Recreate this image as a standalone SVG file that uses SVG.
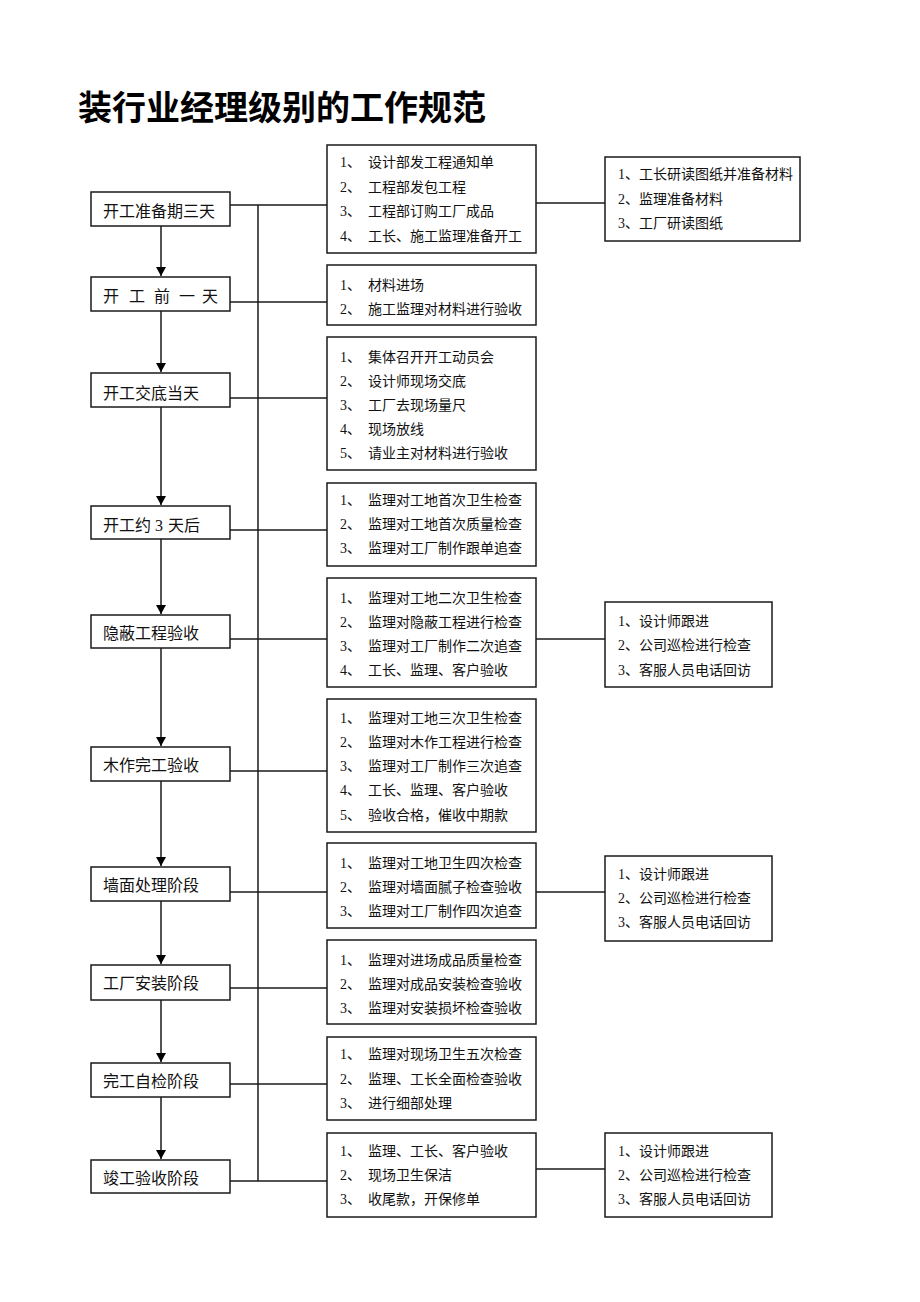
<svg xmlns="http://www.w3.org/2000/svg" width="920" height="1302" viewBox="0 0 920 1302">
<defs>
<style>
.bg{fill:#fff}
.box{fill:#fff;stroke:#1a1a1a;stroke-width:1.5}
.ln{fill:none;stroke:#1a1a1a;stroke-width:1.5}
.t16{font-family:"Liberation Serif","Noto Sans CJK SC",serif;font-size:16px;fill:#111}
.t14{font-family:"Liberation Serif","Noto Sans CJK SC",serif;font-size:14px;fill:#111}
.title{font-family:"Liberation Sans","Noto Sans CJK SC",sans-serif;font-size:34px;font-weight:bold;fill:#000}
</style>
<marker id="ah" markerUnits="userSpaceOnUse" markerWidth="9" markerHeight="10" refX="9" refY="5" orient="auto">
<path d="M0,0 L9,5 L0,10 z" fill="#000"/>
</marker>
</defs>
<rect class="bg" x="0" y="0" width="920" height="1302"/>
<text class="title" x="78" y="120">装行业经理级别的工作规范</text>

<g id="connectors">
<line class="ln" x1="258" y1="205" x2="258" y2="1181"/>
<line class="ln" x1="161" y1="226" x2="161" y2="276" marker-end="url(#ah)"/>
<line class="ln" x1="161" y1="311" x2="161" y2="372" marker-end="url(#ah)"/>
<line class="ln" x1="161" y1="407" x2="161" y2="505" marker-end="url(#ah)"/>
<line class="ln" x1="161" y1="539" x2="161" y2="614" marker-end="url(#ah)"/>
<line class="ln" x1="161" y1="648" x2="161" y2="746" marker-end="url(#ah)"/>
<line class="ln" x1="161" y1="781" x2="161" y2="866" marker-end="url(#ah)"/>
<line class="ln" x1="161" y1="901" x2="161" y2="964" marker-end="url(#ah)"/>
<line class="ln" x1="161" y1="1000" x2="161" y2="1062" marker-end="url(#ah)"/>
<line class="ln" x1="161" y1="1097" x2="161" y2="1159" marker-end="url(#ah)"/>
<line class="ln" x1="230" y1="205" x2="327" y2="205"/>
<line class="ln" x1="230" y1="302" x2="327" y2="302"/>
<line class="ln" x1="230" y1="398" x2="327" y2="398"/>
<line class="ln" x1="230" y1="530" x2="327" y2="530"/>
<line class="ln" x1="230" y1="639" x2="327" y2="639"/>
<line class="ln" x1="230" y1="771" x2="327" y2="771"/>
<line class="ln" x1="230" y1="892" x2="327" y2="892"/>
<line class="ln" x1="230" y1="988" x2="327" y2="988"/>
<line class="ln" x1="230" y1="1084" x2="327" y2="1084"/>
<line class="ln" x1="230" y1="1181" x2="327" y2="1181"/>
<line class="ln" x1="536" y1="203" x2="605" y2="203"/>
<line class="ln" x1="536" y1="639" x2="605" y2="639"/>
<line class="ln" x1="536" y1="892" x2="605" y2="892"/>
<line class="ln" x1="536" y1="1169" x2="605" y2="1169"/>
</g>

<g id="n1"><rect class="box" x="91" y="192" width="139" height="34"/><text class="t16" x="103" y="217">开工准备期三天</text></g>
<g id="n2"><rect class="box" x="91" y="277" width="139" height="34"/><text class="t16" y="302"><tspan x="103">开</tspan><tspan x="129">工</tspan><tspan x="154">前</tspan><tspan x="179">一</tspan><tspan x="202">天</tspan></text></g>
<g id="n3"><rect class="box" x="91" y="373" width="139" height="34"/><text class="t16" x="103" y="399">开工交底当天</text></g>
<g id="n4"><rect class="box" x="91" y="506" width="139" height="33"/><text class="t16" y="531"><tspan x="103">开工约</tspan><tspan x="155">3</tspan><tspan x="168">天后</tspan></text></g>
<g id="n5"><rect class="box" x="91" y="615" width="139" height="33"/><text class="t16" x="103" y="639">隐蔽工程验收</text></g>
<g id="n6"><rect class="box" x="91" y="747" width="139" height="34"/><text class="t16" x="103" y="771">木作完工验收</text></g>
<g id="n7"><rect class="box" x="91" y="867" width="139" height="34"/><text class="t16" x="103" y="891">墙面处理阶段</text></g>
<g id="n8"><rect class="box" x="91" y="965" width="139" height="35"/><text class="t16" x="103" y="989">工厂安装阶段</text></g>
<g id="n9"><rect class="box" x="91" y="1063" width="139" height="34"/><text class="t16" x="103" y="1087">完工自检阶段</text></g>
<g id="n10"><rect class="box" x="91" y="1160" width="139" height="33"/><text class="t16" x="103" y="1184">竣工验收阶段</text></g>

<g id="r1"><rect class="box" x="327" y="145" width="209" height="108"/>
<text class="t14"><tspan x="340" y="167">1、</tspan><tspan x="368" y="167">设计部发工程通知单</tspan><tspan x="340" y="192">2、</tspan><tspan x="368" y="192">工程部发包工程</tspan><tspan x="340" y="216">3、</tspan><tspan x="368" y="216">工程部订购工厂成品</tspan><tspan x="340" y="241">4、</tspan><tspan x="368" y="241">工长、施工监理准备开工</tspan></text></g>
<g id="r2"><rect class="box" x="327" y="265" width="209" height="60"/>
<text class="t14"><tspan x="340" y="290">1、</tspan><tspan x="368" y="290">材料进场</tspan><tspan x="340" y="314">2、</tspan><tspan x="368" y="314">施工监理对材料进行验收</tspan></text></g>
<g id="r3"><rect class="box" x="327" y="337" width="209" height="133"/>
<text class="t14"><tspan x="340" y="362">1、</tspan><tspan x="368" y="362">集体召开开工动员会</tspan><tspan x="340" y="386">2、</tspan><tspan x="368" y="386">设计师现场交底</tspan><tspan x="340" y="410">3、</tspan><tspan x="368" y="410">工厂去现场量尺</tspan><tspan x="340" y="434">4、</tspan><tspan x="368" y="434">现场放线</tspan><tspan x="340" y="458">5、</tspan><tspan x="368" y="458">请业主对材料进行验收</tspan></text></g>
<g id="r4"><rect class="box" x="327" y="483" width="209" height="83"/>
<text class="t14"><tspan x="340" y="505">1、</tspan><tspan x="368" y="505">监理对工地首次卫生检查</tspan><tspan x="340" y="529">2、</tspan><tspan x="368" y="529">监理对工地首次质量检查</tspan><tspan x="340" y="553">3、</tspan><tspan x="368" y="553">监理对工厂制作跟单追查</tspan></text></g>
<g id="r5"><rect class="box" x="327" y="578" width="209" height="109"/>
<text class="t14"><tspan x="340" y="603">1、</tspan><tspan x="368" y="603">监理对工地二次卫生检查</tspan><tspan x="340" y="627">2、</tspan><tspan x="368" y="627">监理对隐蔽工程进行检查</tspan><tspan x="340" y="651">3、</tspan><tspan x="368" y="651">监理对工厂制作二次追查</tspan><tspan x="340" y="675">4、</tspan><tspan x="368" y="675">工长、监理、客户验收</tspan></text></g>
<g id="r6"><rect class="box" x="327" y="699" width="209" height="133"/>
<text class="t14"><tspan x="340" y="723">1、</tspan><tspan x="368" y="723">监理对工地三次卫生检查</tspan><tspan x="340" y="747">2、</tspan><tspan x="368" y="747">监理对木作工程进行检查</tspan><tspan x="340" y="771">3、</tspan><tspan x="368" y="771">监理对工厂制作三次追查</tspan><tspan x="340" y="795">4、</tspan><tspan x="368" y="795">工长、监理、客户验收</tspan><tspan x="340" y="820">5、</tspan><tspan x="368" y="820">验收合格，催收中期款</tspan></text></g>
<g id="r7"><rect class="box" x="327" y="843" width="209" height="85"/>
<text class="t14"><tspan x="340" y="868">1、</tspan><tspan x="368" y="868">监理对工地卫生四次检查</tspan><tspan x="340" y="892">2、</tspan><tspan x="368" y="892">监理对墙面腻子检查验收</tspan><tspan x="340" y="916">3、</tspan><tspan x="368" y="916">监理对工厂制作四次追查</tspan></text></g>
<g id="r8"><rect class="box" x="327" y="940" width="209" height="84"/>
<text class="t14"><tspan x="340" y="965">1、</tspan><tspan x="368" y="965">监理对进场成品质量检查</tspan><tspan x="340" y="989">2、</tspan><tspan x="368" y="989">监理对成品安装检查验收</tspan><tspan x="340" y="1013">3、</tspan><tspan x="368" y="1013">监理对安装损坏检查验收</tspan></text></g>
<g id="r9"><rect class="box" x="327" y="1037" width="209" height="83"/>
<text class="t14"><tspan x="340" y="1059">1、</tspan><tspan x="368" y="1059">监理对现场卫生五次检查</tspan><tspan x="340" y="1084">2、</tspan><tspan x="368" y="1084">监理、工长全面检查验收</tspan><tspan x="340" y="1108">3、</tspan><tspan x="368" y="1108">进行细部处理</tspan></text></g>
<g id="r10"><rect class="box" x="327" y="1133" width="209" height="84"/>
<text class="t14"><tspan x="340" y="1156">1、</tspan><tspan x="368" y="1156">监理、工长、客户验收</tspan><tspan x="340" y="1180">2、</tspan><tspan x="368" y="1180">现场卫生保洁</tspan><tspan x="340" y="1204">3、</tspan><tspan x="368" y="1204">收尾款，开保修单</tspan></text></g>

<g id="f1"><rect class="box" x="605" y="157" width="195" height="84"/>
<text class="t14"><tspan x="618" y="179">1、工长研读图纸并准备材料</tspan><tspan x="618" y="204">2、监理准备材料</tspan><tspan x="618" y="228">3、工厂研读图纸</tspan></text></g>
<g id="f5"><rect class="box" x="605" y="602" width="167" height="85"/>
<text class="t14"><tspan x="618" y="626">1、设计师跟进</tspan><tspan x="618" y="650">2、公司巡检进行检查</tspan><tspan x="618" y="675">3、客服人员电话回访</tspan></text></g>
<g id="f7"><rect class="box" x="605" y="856" width="167" height="85"/>
<text class="t14"><tspan x="618" y="879">1、设计师跟进</tspan><tspan x="618" y="903">2、公司巡检进行检查</tspan><tspan x="618" y="927">3、客服人员电话回访</tspan></text></g>
<g id="f10"><rect class="box" x="605" y="1133" width="167" height="84"/>
<text class="t14"><tspan x="618" y="1156">1、设计师跟进</tspan><tspan x="618" y="1180">2、公司巡检进行检查</tspan><tspan x="618" y="1204">3、客服人员电话回访</tspan></text></g>
</svg>
